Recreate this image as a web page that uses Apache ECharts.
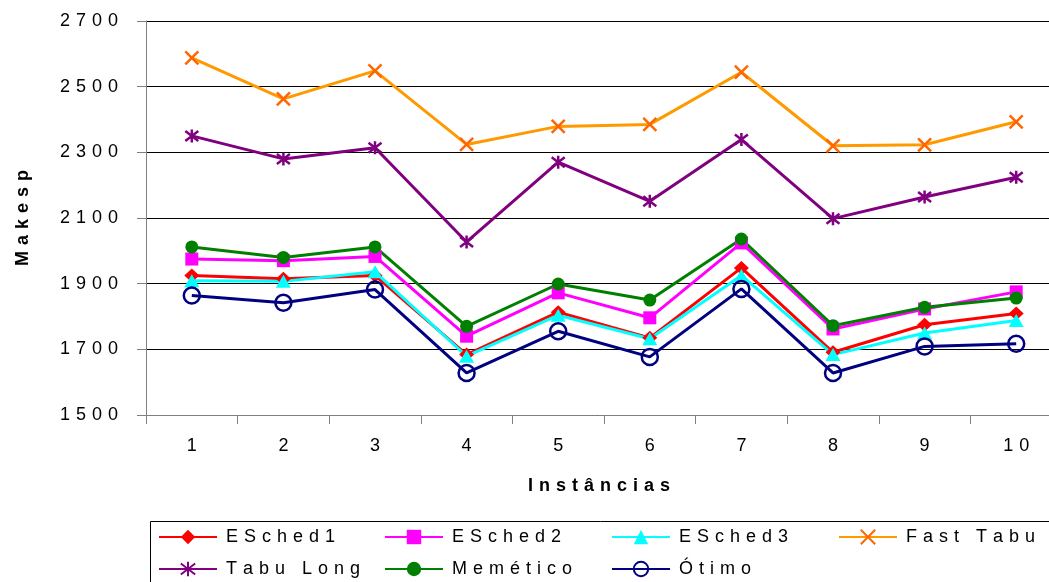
<!DOCTYPE html>
<html>
<head>
<meta charset="utf-8">
<script src="https://cdn.jsdelivr.net/npm/echarts@6/dist/echarts.min.js"></script>
<style>
  html, body { margin: 0; padding: 0; background: #fff; }
  #chart { width: 1049px; height: 582px; }
</style>
</head>
<body>
<div id="chart"></div>
<script>
// Instances on the x axis
const categories = ['1', '2', '3', '4', '5', '6', '7', '8', '9', '10'];

// Makespan per instance for each method
const esched1  = [1925, 1915, 1925, 1684, 1813, 1735, 1948, 1691, 1775, 1809];
const esched2  = [1975, 1970, 1983, 1740, 1872, 1796, 2024, 1762, 1823, 1875];
const esched3  = [1909, 1907, 1936, 1679, 1804, 1732, 1925, 1684, 1750, 1788];
const fastTabu = [2588, 2463, 2548, 2324, 2379, 2385, 2544, 2320, 2323, 2393];
const tabuLong = [2350, 2280, 2314, 2027, 2270, 2151, 2339, 2098, 2164, 2224];
const memetico = [2012, 1980, 2012, 1770, 1899, 1850, 2036, 1772, 1828, 1856];
const otimo    = [1864, 1842, 1882, 1628, 1755, 1677, 1884, 1628, 1709, 1717];

// Y axis range
const yMin = 1500, yMax = 2700, yStep = 200;

const FONT = 'Liberation Sans, Arial, sans-serif';
// widen the text with spacer characters between letters
function spaced(s, sp) { return Array.from(String(s)).join(sp || '\u2004'); }

const X_PATH = 'path://M0,0L10,10M10,0L0,10';
const STAR_PATH = 'path://M0,0L10,10M10,0L0,10M5,-1.5L5,11.5';

function lineSeries(name, data, lineColor, markColor, symbol, size, extra) {
  const s = {
    name: name,
    type: 'line',
    data: data,
    symbol: symbol,
    symbolSize: size,
    showAllSymbol: true,
    lineStyle: { color: lineColor, width: 3 },
    itemStyle: { color: markColor, borderColor: markColor, borderWidth: 0 },
    emphasis: { disabled: true },
    animation: false
  };
  return Object.assign(s, extra || {});
}

const series = [
  lineSeries('ESched1', esched1, '#FF0000', '#FF0000', 'diamond', [15, 14]),
  lineSeries('ESched2', esched2, '#FF00FF', '#FF00FF', 'rect', 13),
  lineSeries('ESched3', esched3, '#00FFFF', '#00FFFF', 'triangle', [15, 13]),
  lineSeries('Fast Tabu', fastTabu, '#FF9900', '#FF6600', X_PATH, 13,
    { itemStyle: { color: '#FF6600', borderColor: '#FF6600', borderWidth: 2.5 } }),
  lineSeries('Tabu Long', tabuLong, '#800080', '#800080', STAR_PATH, 13,
    { itemStyle: { color: '#800080', borderColor: '#800080', borderWidth: 2.5 } }),
  lineSeries('Memético', memetico, '#008000', '#008000', 'circle', 13),
  lineSeries('Ótimo', otimo, '#000080', '#000080', 'circle', 16,
    { itemStyle: { color: 'rgba(255,255,255,0)', borderColor: '#000080', borderWidth: 2.5 } })
];

// legend entries laid out in two rows of fixed columns
const legendSlots = [
  { name: 'ESched1', left: 158, top: 527 },
  { name: 'ESched2', left: 384, top: 527 },
  { name: 'ESched3', left: 611, top: 527 },
  { name: 'Fast Tabu', left: 838, top: 527 },
  { name: 'Tabu Long', left: 158, top: 559 },
  { name: 'Memético', left: 384, top: 559 },
  { name: 'Ótimo', left: 611, top: 559 }
];
const legends = legendSlots.map(function (l) {
  return {
    data: [l.name],
    left: l.left,
    top: l.top,
    padding: 0,
    itemWidth: 58,
    itemHeight: 18,
    itemGap: 0,
    selectedMode: false,
    textStyle: {
      fontFamily: FONT, fontSize: 18, color: '#000', lineHeight: 20, padding: [0, 0, 0, 4]
    },
    formatter: function (n) { return spaced(n, '\u2004'); }
  };
});

const chart = echarts.init(document.getElementById('chart'), null, { renderer: 'canvas' });
chart.setOption({
  backgroundColor: '#fff',
  animation: false,
  grid: {
    left: 146, width: 916, top: 21, height: 394,
    containLabel: false, outerBoundsMode: 'none'
  },
  legend: legends,
  graphic: [{
    type: 'rect',
    shape: { x: 150.5, y: 521.5, width: 920, height: 80 },
    style: { fill: 'none', stroke: '#000', lineWidth: 1 },
    z: -1,
    silent: true
  }],
  xAxis: {
    type: 'category',
    data: categories,
    boundaryGap: true,
    name: spaced('Instâncias', '\u2004'),
    nameLocation: 'middle',
    nameGap: 62,
    nameTextStyle: {
      fontFamily: FONT, fontSize: 18, fontWeight: 'bold', color: '#000', padding: [0, 10, 0, 0]
    },
    axisLine: { lineStyle: { color: '#808080', width: 1 } },
    axisTick: { show: true, inside: false, length: 9, interval: 0, lineStyle: { color: '#808080' } },
    axisLabel: {
      fontFamily: FONT, fontSize: 18, color: '#000', margin: 22,
      formatter: function (v) { return spaced(v); }
    },
    splitLine: { show: false }
  },
  yAxis: {
    type: 'value',
    min: yMin,
    max: yMax,
    interval: yStep,
    name: spaced('Makesp', '\u2004'),
    nameLocation: 'middle',
    nameRotate: 90,
    nameGap: 114,
    nameTextStyle: { fontFamily: FONT, fontSize: 18, fontWeight: 'bold', color: '#000' },
    axisLine: { show: true, lineStyle: { color: '#808080', width: 1 } },
    axisTick: { show: true, inside: false, length: 9, lineStyle: { color: '#808080' } },
    axisLabel: {
      fontFamily: FONT, fontSize: 18, color: '#000', margin: 28,
      formatter: function (v) { return spaced(v); }
    },
    splitLine: { show: true, lineStyle: { color: '#000', width: 1 } }
  },
  series: series
});
</script>
</body>
</html>
